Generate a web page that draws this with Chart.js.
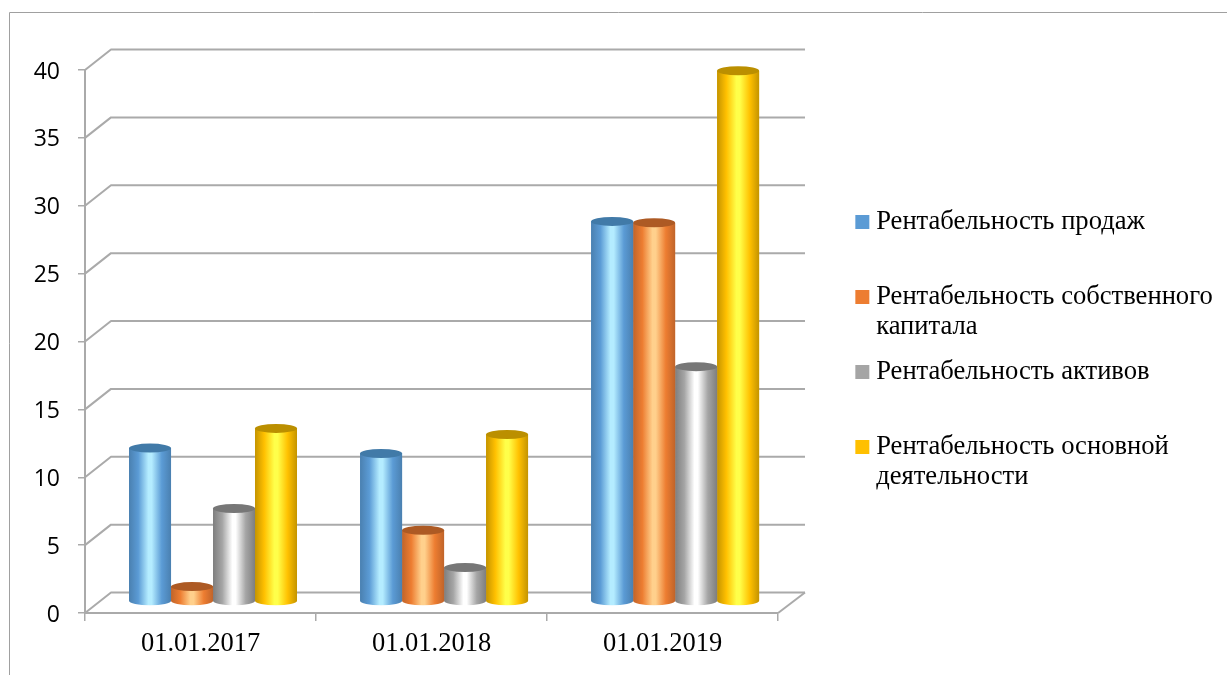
<!DOCTYPE html>
<html>
<head>
<meta charset="utf-8">
<script src="https://cdn.jsdelivr.net/npm/chart.js@4"></script>
<style>
  html, body { margin: 0; padding: 0; background: #fff; }
  canvas { display: block; }
</style>
</head>
<body>
<canvas id="chart" width="1227" height="675"></canvas>
<script>
const categories = ['01.01.2017', '01.01.2018', '01.01.2019'];
const seriesNames = [
  'Рентабельность продаж',
  'Рентабельность собственного капитала',
  'Рентабельность активов',
  'Рентабельность основной деятельности'
];
const legendLines = [
  ['Рентабельность продаж', ''],
  ['Рентабельность собственного', 'капитала'],
  ['Рентабельность активов', ''],
  ['Рентабельность основной', 'деятельности']
];
const salesValues = [11.3, 10.9, 28.0];
const equityValues = [1.1, 5.25, 27.9];
const assetsValues = [6.85, 2.5, 17.3];
const coreValues = [12.75, 12.3, 39.1];

const seriesValues = [salesValues, equityValues, assetsValues, coreValues];
const flatColors = ['#5b9bd5', '#ed7d31', '#a5a5a5', '#ffc000'];
const edgeColors = ['#4a80b0', '#c0642a', '#7e7e7e', '#c49400'];
const lightColors = ['#b4ecff', '#ffd08c', '#ffffff', '#ffff4a'];
const capColors = ['#417aa8', '#ad5a24', '#777777', '#bb8f00'];

const GRID = '#aaaaaa';
const DEPTH_X = 26, DEPTH_Y = 20.5;

// fake 3d: back wall lines behind the bars, bars shifted onto the floor
const depthPlugin = {
  id: 'depth',
  beforeDraw(chart) {
    const ctx = chart.ctx;
    ctx.save();
    ctx.strokeStyle = '#a0a0a0';
    ctx.lineWidth = 1;
    ctx.beginPath();
    ctx.moveTo(1227, 12.5);
    ctx.lineTo(9.5, 12.5);
    ctx.lineTo(9.5, 675);
    ctx.stroke();
    ctx.restore();
  },
  beforeDatasetsDraw(chart) {
    const { ctx, chartArea: area, scales } = chart;
    const backRight = 805;
    ctx.save();
    ctx.strokeStyle = GRID;
    ctx.lineWidth = 2;
    ctx.lineJoin = 'round';
    scales.y.ticks.forEach(t => {
      const y = scales.y.getPixelForValue(t.value);
      ctx.beginPath();
      ctx.moveTo(area.left, y);
      ctx.lineTo(area.left + DEPTH_X, y - DEPTH_Y);
      ctx.lineTo(backRight, y - DEPTH_Y);
      ctx.stroke();
    });
    ctx.beginPath();
    ctx.moveTo(area.right, area.bottom);
    ctx.lineTo(backRight, area.bottom - DEPTH_Y);
    ctx.stroke();
    ctx.restore();
    ctx.save();
    ctx.translate(12.5, -11.5);
  },
  afterDatasetDraw(chart, args) {
    const ctx = chart.ctx;
    const i = args.index;
    const ry = 4.5;
    args.meta.data.forEach(bar => {
      const left = bar.x - bar.width / 2;
      const right = bar.x + bar.width / 2;
      const rx = bar.width / 2;
      const g = ctx.createLinearGradient(left, 0, right, 0);
      g.addColorStop(0, edgeColors[i]);
      g.addColorStop(0.22, flatColors[i]);
      g.addColorStop(0.46, lightColors[i]);
      g.addColorStop(0.54, lightColors[i]);
      g.addColorStop(0.78, flatColors[i]);
      g.addColorStop(1, edgeColors[i]);
      ctx.save();
      ctx.fillStyle = g;
      ctx.beginPath();
      ctx.moveTo(left, bar.y);
      ctx.lineTo(left, bar.base);
      ctx.ellipse(bar.x, bar.base, rx, ry, 0, Math.PI, 0, true);
      ctx.lineTo(right, bar.y);
      ctx.closePath();
      ctx.fill();
      ctx.fillStyle = capColors[i];
      ctx.beginPath();
      ctx.ellipse(bar.x, bar.y, rx, ry, 0, 0, Math.PI * 2);
      ctx.fill();
      ctx.restore();
    });
  },
  afterDatasetsDraw(chart) {
    chart.ctx.restore();
  }
};

new Chart(document.getElementById('chart'), {
  type: 'bar',
  data: {
    labels: categories,
    datasets: seriesNames.map((name, i) => ({
      label: name,
      data: seriesValues[i],
      backgroundColor: flatColors[i],
      borderWidth: 0,
      yAxisID: 'y',
      clip: false,
      barPercentage: 1,
      categoryPercentage: 0.727
    }))
  },
  options: {
    responsive: false,
    animation: false,
    layout: { padding: { top: 70, bottom: 0, left: 0, right: 4.3 } },
    scales: {
      x: {
        grid: { color: GRID, lineWidth: 1.5, drawOnChartArea: false, tickLength: 8 },
        border: { color: GRID, width: 2 },
        ticks: {
          color: '#000',
          padding: 7,
          maxRotation: 0,
          font: { family: '"Liberation Serif"', size: 26.5 }
        },
        afterFit(s) { s.height = 62; }
      },
      y: {
        min: 0,
        max: 40,
        grid: { color: GRID, lineWidth: 1.5, drawOnChartArea: false, tickLength: 7 },
        border: { color: GRID, width: 2 },
        ticks: {
          stepSize: 5,
          color: '#000',
          padding: 18,
          labelOffset: 2,
          font: { family: '"Open Sans"', size: 23 }
        },
        afterFit(s) { s.width = 85; }
      },
      // spacer between plot and legend
      y1: {
        position: 'right',
        min: 0,
        max: 1,
        grid: { display: false },
        border: { display: false },
        ticks: { display: false },
        afterFit(s) { s.width = 68.7; }
      }
    },
    plugins: {
      tooltip: { enabled: false },
      legend: {
        position: 'right',
        align: 'start',
        maxWidth: 400,
        // empty title only pushes the items down to where the legend sits
        title: { display: true, text: '', font: { size: 10, lineHeight: 1 }, padding: { top: 113.7, bottom: 0 } },
        labels: {
          color: '#000',
          boxWidth: 1,
          boxHeight: 14,
          usePointStyle: true,
          padding: 15,
          font: { family: '"Liberation Serif"', size: 26.6, lineHeight: 1.128 },
          generateLabels: () => legendLines.map((lines, i) => ({
            text: lines,
            fontColor: '#000',
            fillStyle: flatColors[i],
            strokeStyle: flatColors[i],
            lineWidth: 0,
            pointStyle: 'rect',
            datasetIndex: i
          }))
        }
      }
    }
  },
  plugins: [depthPlugin]
});
</script>
</body>
</html>
